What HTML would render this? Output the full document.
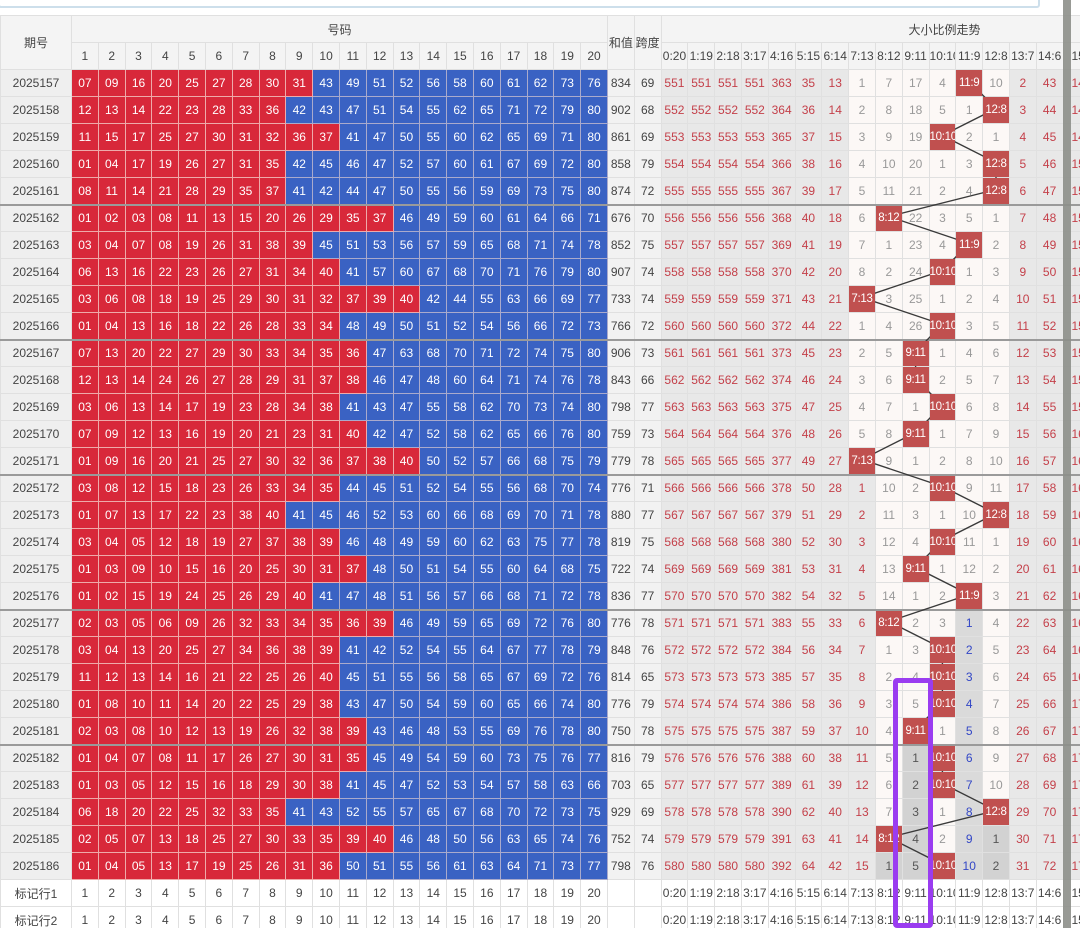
<!DOCTYPE html>
<html><head><meta charset="utf-8"><style>
html,body{margin:0;padding:0;background:#fff;width:1080px;height:928px;overflow:hidden;position:relative}
table{border-collapse:collapse;table-layout:fixed;position:absolute;left:0;top:15px;width:1089px}
tr{height:27px}
td{border:1px solid #e0e0e0;text-align:center;font:12px "Liberation Sans","Noto Sans CJK SC",sans-serif;padding:0;overflow:hidden;white-space:nowrap;color:#444}
td:nth-last-child(1){text-align:left;padding-left:8px}
.hd td{background:#f4f4f4;color:#444}
.q{background:#efefef}
.r{background:#d8283a;color:#fff;border-color:#eaa}
.b{background:#3a62c3;color:#fff;border-color:#aac}
.s{background:#f2f2f2}
.g{background:#e8e8e8;color:#c4404a}
.w{background:#fcf8f6;color:#999}
.h{background:#c0504f;color:#fff;position:relative;z-index:2;font-size:11.5px;letter-spacing:-0.3px}
.k{background:#d2d2d2;color:#555}
.u{background:#dadada;color:#3347c6}
.ft td{background:#fff;color:#444}
tr.sep td{border-bottom:2px solid #9a9a9a}
</style></head><body>
<div style="position:absolute;left:-2px;top:-10px;width:1038px;height:14px;border:2px solid #cddfeb;border-radius:3px"></div>
<svg width="1080" height="928" style="position:absolute;left:0;top:0;z-index:1" fill="none">
<polyline stroke="#3a3a3a" stroke-width="1.4" points="969.2,81.5 996,108.5 942.4,135.5 996,162.5 996,189.5 888.8,216.5 969.2,243.5 942.4,270.5 862,297.5 942.4,324.5 915.6,351.5 915.6,378.5 942.4,405.5 915.6,432.5 862,459.5 942.4,486.5 996,513.5 942.4,540.5 915.6,567.5 969.2,594.5 888.8,621.5 942.4,648.5 942.4,675.5 942.4,702.5 915.6,729.5 942.4,756.5 942.4,783.5 996,810.5 888.8,837.5 942.4,864.5"/>
</svg>
<table>
<colgroup><col style="width:71px"><col span="38" style="width:26.8px"></colgroup>
<tr class="hd"><td rowspan="2">期号</td><td colspan="20">号码</td><td rowspan="2">和值</td><td rowspan="2">跨度</td><td colspan="16" style="text-align:left;padding-left:247px">大小比例走势</td></tr>
<tr class="hd"><td>1<td>2<td>3<td>4<td>5<td>6<td>7<td>8<td>9<td>10<td>11<td>12<td>13<td>14<td>15<td>16<td>17<td>18<td>19<td>20<td>0:20<td>1:19<td>2:18<td>3:17<td>4:16<td>5:15<td>6:14<td>7:13<td>8:12<td>9:11<td>10:10<td>11:9<td>12:8<td>13:7<td>14:6<td>15:5</tr>
<tr><td class=q>2025157<td class=r>07<td class=r>09<td class=r>16<td class=r>20<td class=r>25<td class=r>27<td class=r>28<td class=r>30<td class=r>31<td class=b>43<td class=b>49<td class=b>51<td class=b>52<td class=b>56<td class=b>58<td class=b>60<td class=b>61<td class=b>62<td class=b>73<td class=b>76<td class=s>834<td class=s>69<td class=g>551<td class=g>551<td class=g>551<td class=g>551<td class=g>363<td class=g>35<td class=g>13<td class=w>1<td class=w>7<td class=w>17<td class=w>4<td class=h>11:9<td class=w>10<td class=g>2<td class=g>43<td class=g>147</tr>
<tr><td class=q>2025158<td class=r>12<td class=r>13<td class=r>14<td class=r>22<td class=r>23<td class=r>28<td class=r>33<td class=r>36<td class=b>42<td class=b>43<td class=b>47<td class=b>51<td class=b>54<td class=b>55<td class=b>62<td class=b>65<td class=b>71<td class=b>72<td class=b>79<td class=b>80<td class=s>902<td class=s>68<td class=g>552<td class=g>552<td class=g>552<td class=g>552<td class=g>364<td class=g>36<td class=g>14<td class=w>2<td class=w>8<td class=w>18<td class=w>5<td class=w>1<td class=h>12:8<td class=g>3<td class=g>44<td class=g>148</tr>
<tr><td class=q>2025159<td class=r>11<td class=r>15<td class=r>17<td class=r>25<td class=r>27<td class=r>30<td class=r>31<td class=r>32<td class=r>36<td class=r>37<td class=b>41<td class=b>47<td class=b>50<td class=b>55<td class=b>60<td class=b>62<td class=b>65<td class=b>69<td class=b>71<td class=b>80<td class=s>861<td class=s>69<td class=g>553<td class=g>553<td class=g>553<td class=g>553<td class=g>365<td class=g>37<td class=g>15<td class=w>3<td class=w>9<td class=w>19<td class=h>10:10<td class=w>2<td class=w>1<td class=g>4<td class=g>45<td class=g>149</tr>
<tr><td class=q>2025160<td class=r>01<td class=r>04<td class=r>17<td class=r>19<td class=r>26<td class=r>27<td class=r>31<td class=r>35<td class=b>42<td class=b>45<td class=b>46<td class=b>47<td class=b>52<td class=b>57<td class=b>60<td class=b>61<td class=b>67<td class=b>69<td class=b>72<td class=b>80<td class=s>858<td class=s>79<td class=g>554<td class=g>554<td class=g>554<td class=g>554<td class=g>366<td class=g>38<td class=g>16<td class=w>4<td class=w>10<td class=w>20<td class=w>1<td class=w>3<td class=h>12:8<td class=g>5<td class=g>46<td class=g>150</tr>
<tr class=sep><td class=q>2025161<td class=r>08<td class=r>11<td class=r>14<td class=r>21<td class=r>28<td class=r>29<td class=r>35<td class=r>37<td class=b>41<td class=b>42<td class=b>44<td class=b>47<td class=b>50<td class=b>55<td class=b>56<td class=b>59<td class=b>69<td class=b>73<td class=b>75<td class=b>80<td class=s>874<td class=s>72<td class=g>555<td class=g>555<td class=g>555<td class=g>555<td class=g>367<td class=g>39<td class=g>17<td class=w>5<td class=w>11<td class=w>21<td class=w>2<td class=w>4<td class=h>12:8<td class=g>6<td class=g>47<td class=g>151</tr>
<tr><td class=q>2025162<td class=r>01<td class=r>02<td class=r>03<td class=r>08<td class=r>11<td class=r>13<td class=r>15<td class=r>20<td class=r>26<td class=r>29<td class=r>35<td class=r>37<td class=b>46<td class=b>49<td class=b>59<td class=b>60<td class=b>61<td class=b>64<td class=b>66<td class=b>71<td class=s>676<td class=s>70<td class=g>556<td class=g>556<td class=g>556<td class=g>556<td class=g>368<td class=g>40<td class=g>18<td class=w>6<td class=h>8:12<td class=w>22<td class=w>3<td class=w>5<td class=w>1<td class=g>7<td class=g>48<td class=g>152</tr>
<tr><td class=q>2025163<td class=r>03<td class=r>04<td class=r>07<td class=r>08<td class=r>19<td class=r>26<td class=r>31<td class=r>38<td class=r>39<td class=b>45<td class=b>51<td class=b>53<td class=b>56<td class=b>57<td class=b>59<td class=b>65<td class=b>68<td class=b>71<td class=b>74<td class=b>78<td class=s>852<td class=s>75<td class=g>557<td class=g>557<td class=g>557<td class=g>557<td class=g>369<td class=g>41<td class=g>19<td class=w>7<td class=w>1<td class=w>23<td class=w>4<td class=h>11:9<td class=w>2<td class=g>8<td class=g>49<td class=g>153</tr>
<tr><td class=q>2025164<td class=r>06<td class=r>13<td class=r>16<td class=r>22<td class=r>23<td class=r>26<td class=r>27<td class=r>31<td class=r>34<td class=r>40<td class=b>41<td class=b>57<td class=b>60<td class=b>67<td class=b>68<td class=b>70<td class=b>71<td class=b>76<td class=b>79<td class=b>80<td class=s>907<td class=s>74<td class=g>558<td class=g>558<td class=g>558<td class=g>558<td class=g>370<td class=g>42<td class=g>20<td class=w>8<td class=w>2<td class=w>24<td class=h>10:10<td class=w>1<td class=w>3<td class=g>9<td class=g>50<td class=g>154</tr>
<tr><td class=q>2025165<td class=r>03<td class=r>06<td class=r>08<td class=r>18<td class=r>19<td class=r>25<td class=r>29<td class=r>30<td class=r>31<td class=r>32<td class=r>37<td class=r>39<td class=r>40<td class=b>42<td class=b>44<td class=b>55<td class=b>63<td class=b>66<td class=b>69<td class=b>77<td class=s>733<td class=s>74<td class=g>559<td class=g>559<td class=g>559<td class=g>559<td class=g>371<td class=g>43<td class=g>21<td class=h>7:13<td class=w>3<td class=w>25<td class=w>1<td class=w>2<td class=w>4<td class=g>10<td class=g>51<td class=g>155</tr>
<tr class=sep><td class=q>2025166<td class=r>01<td class=r>04<td class=r>13<td class=r>16<td class=r>18<td class=r>22<td class=r>26<td class=r>28<td class=r>33<td class=r>34<td class=b>48<td class=b>49<td class=b>50<td class=b>51<td class=b>52<td class=b>54<td class=b>56<td class=b>66<td class=b>72<td class=b>73<td class=s>766<td class=s>72<td class=g>560<td class=g>560<td class=g>560<td class=g>560<td class=g>372<td class=g>44<td class=g>22<td class=w>1<td class=w>4<td class=w>26<td class=h>10:10<td class=w>3<td class=w>5<td class=g>11<td class=g>52<td class=g>156</tr>
<tr><td class=q>2025167<td class=r>07<td class=r>13<td class=r>20<td class=r>22<td class=r>27<td class=r>29<td class=r>30<td class=r>33<td class=r>34<td class=r>35<td class=r>36<td class=b>47<td class=b>63<td class=b>68<td class=b>70<td class=b>71<td class=b>72<td class=b>74<td class=b>75<td class=b>80<td class=s>906<td class=s>73<td class=g>561<td class=g>561<td class=g>561<td class=g>561<td class=g>373<td class=g>45<td class=g>23<td class=w>2<td class=w>5<td class=h>9:11<td class=w>1<td class=w>4<td class=w>6<td class=g>12<td class=g>53<td class=g>157</tr>
<tr><td class=q>2025168<td class=r>12<td class=r>13<td class=r>14<td class=r>24<td class=r>26<td class=r>27<td class=r>28<td class=r>29<td class=r>31<td class=r>37<td class=r>38<td class=b>46<td class=b>47<td class=b>48<td class=b>60<td class=b>64<td class=b>71<td class=b>74<td class=b>76<td class=b>78<td class=s>843<td class=s>66<td class=g>562<td class=g>562<td class=g>562<td class=g>562<td class=g>374<td class=g>46<td class=g>24<td class=w>3<td class=w>6<td class=h>9:11<td class=w>2<td class=w>5<td class=w>7<td class=g>13<td class=g>54<td class=g>158</tr>
<tr><td class=q>2025169<td class=r>03<td class=r>06<td class=r>13<td class=r>14<td class=r>17<td class=r>19<td class=r>23<td class=r>28<td class=r>34<td class=r>38<td class=b>41<td class=b>43<td class=b>47<td class=b>55<td class=b>58<td class=b>62<td class=b>70<td class=b>73<td class=b>74<td class=b>80<td class=s>798<td class=s>77<td class=g>563<td class=g>563<td class=g>563<td class=g>563<td class=g>375<td class=g>47<td class=g>25<td class=w>4<td class=w>7<td class=w>1<td class=h>10:10<td class=w>6<td class=w>8<td class=g>14<td class=g>55<td class=g>159</tr>
<tr><td class=q>2025170<td class=r>07<td class=r>09<td class=r>12<td class=r>13<td class=r>16<td class=r>19<td class=r>20<td class=r>21<td class=r>23<td class=r>31<td class=r>40<td class=b>42<td class=b>47<td class=b>52<td class=b>58<td class=b>62<td class=b>65<td class=b>66<td class=b>76<td class=b>80<td class=s>759<td class=s>73<td class=g>564<td class=g>564<td class=g>564<td class=g>564<td class=g>376<td class=g>48<td class=g>26<td class=w>5<td class=w>8<td class=h>9:11<td class=w>1<td class=w>7<td class=w>9<td class=g>15<td class=g>56<td class=g>160</tr>
<tr class=sep><td class=q>2025171<td class=r>01<td class=r>09<td class=r>16<td class=r>20<td class=r>21<td class=r>25<td class=r>27<td class=r>30<td class=r>32<td class=r>36<td class=r>37<td class=r>38<td class=r>40<td class=b>50<td class=b>52<td class=b>57<td class=b>66<td class=b>68<td class=b>75<td class=b>79<td class=s>779<td class=s>78<td class=g>565<td class=g>565<td class=g>565<td class=g>565<td class=g>377<td class=g>49<td class=g>27<td class=h>7:13<td class=w>9<td class=w>1<td class=w>2<td class=w>8<td class=w>10<td class=g>16<td class=g>57<td class=g>161</tr>
<tr><td class=q>2025172<td class=r>03<td class=r>08<td class=r>12<td class=r>15<td class=r>18<td class=r>23<td class=r>26<td class=r>33<td class=r>34<td class=r>35<td class=b>44<td class=b>45<td class=b>51<td class=b>52<td class=b>54<td class=b>55<td class=b>56<td class=b>68<td class=b>70<td class=b>74<td class=s>776<td class=s>71<td class=g>566<td class=g>566<td class=g>566<td class=g>566<td class=g>378<td class=g>50<td class=g>28<td class=g>1<td class=w>10<td class=w>2<td class=h>10:10<td class=w>9<td class=w>11<td class=g>17<td class=g>58<td class=g>162</tr>
<tr><td class=q>2025173<td class=r>01<td class=r>07<td class=r>13<td class=r>17<td class=r>22<td class=r>23<td class=r>38<td class=r>40<td class=b>41<td class=b>45<td class=b>46<td class=b>52<td class=b>53<td class=b>60<td class=b>66<td class=b>68<td class=b>69<td class=b>70<td class=b>71<td class=b>78<td class=s>880<td class=s>77<td class=g>567<td class=g>567<td class=g>567<td class=g>567<td class=g>379<td class=g>51<td class=g>29<td class=g>2<td class=w>11<td class=w>3<td class=w>1<td class=w>10<td class=h>12:8<td class=g>18<td class=g>59<td class=g>163</tr>
<tr><td class=q>2025174<td class=r>03<td class=r>04<td class=r>05<td class=r>12<td class=r>18<td class=r>19<td class=r>27<td class=r>37<td class=r>38<td class=r>39<td class=b>46<td class=b>48<td class=b>49<td class=b>59<td class=b>60<td class=b>62<td class=b>63<td class=b>75<td class=b>77<td class=b>78<td class=s>819<td class=s>75<td class=g>568<td class=g>568<td class=g>568<td class=g>568<td class=g>380<td class=g>52<td class=g>30<td class=g>3<td class=w>12<td class=w>4<td class=h>10:10<td class=w>11<td class=w>1<td class=g>19<td class=g>60<td class=g>164</tr>
<tr><td class=q>2025175<td class=r>01<td class=r>03<td class=r>09<td class=r>10<td class=r>15<td class=r>16<td class=r>20<td class=r>25<td class=r>30<td class=r>31<td class=r>37<td class=b>48<td class=b>50<td class=b>51<td class=b>54<td class=b>55<td class=b>60<td class=b>64<td class=b>68<td class=b>75<td class=s>722<td class=s>74<td class=g>569<td class=g>569<td class=g>569<td class=g>569<td class=g>381<td class=g>53<td class=g>31<td class=g>4<td class=w>13<td class=h>9:11<td class=w>1<td class=w>12<td class=w>2<td class=g>20<td class=g>61<td class=g>165</tr>
<tr class=sep><td class=q>2025176<td class=r>01<td class=r>02<td class=r>15<td class=r>19<td class=r>24<td class=r>25<td class=r>26<td class=r>29<td class=r>40<td class=b>41<td class=b>47<td class=b>48<td class=b>51<td class=b>56<td class=b>57<td class=b>66<td class=b>68<td class=b>71<td class=b>72<td class=b>78<td class=s>836<td class=s>77<td class=g>570<td class=g>570<td class=g>570<td class=g>570<td class=g>382<td class=g>54<td class=g>32<td class=g>5<td class=w>14<td class=w>1<td class=w>2<td class=h>11:9<td class=w>3<td class=g>21<td class=g>62<td class=g>166</tr>
<tr><td class=q>2025177<td class=r>02<td class=r>03<td class=r>05<td class=r>06<td class=r>09<td class=r>26<td class=r>32<td class=r>33<td class=r>34<td class=r>35<td class=r>36<td class=r>39<td class=b>46<td class=b>49<td class=b>59<td class=b>65<td class=b>69<td class=b>72<td class=b>76<td class=b>80<td class=s>776<td class=s>78<td class=g>571<td class=g>571<td class=g>571<td class=g>571<td class=g>383<td class=g>55<td class=g>33<td class=g>6<td class=h>8:12<td class=w>2<td class=w>3<td class=u>1<td class=w>4<td class=g>22<td class=g>63<td class=g>167</tr>
<tr><td class=q>2025178<td class=r>03<td class=r>04<td class=r>13<td class=r>20<td class=r>25<td class=r>27<td class=r>34<td class=r>36<td class=r>38<td class=r>39<td class=b>41<td class=b>42<td class=b>52<td class=b>54<td class=b>55<td class=b>64<td class=b>67<td class=b>77<td class=b>78<td class=b>79<td class=s>848<td class=s>76<td class=g>572<td class=g>572<td class=g>572<td class=g>572<td class=g>384<td class=g>56<td class=g>34<td class=g>7<td class=w>1<td class=w>3<td class=h>10:10<td class=u>2<td class=w>5<td class=g>23<td class=g>64<td class=g>168</tr>
<tr><td class=q>2025179<td class=r>11<td class=r>12<td class=r>13<td class=r>14<td class=r>16<td class=r>21<td class=r>22<td class=r>25<td class=r>26<td class=r>40<td class=b>45<td class=b>51<td class=b>55<td class=b>56<td class=b>58<td class=b>65<td class=b>67<td class=b>69<td class=b>72<td class=b>76<td class=s>814<td class=s>65<td class=g>573<td class=g>573<td class=g>573<td class=g>573<td class=g>385<td class=g>57<td class=g>35<td class=g>8<td class=w>2<td class=w>4<td class=h>10:10<td class=u>3<td class=w>6<td class=g>24<td class=g>65<td class=g>169</tr>
<tr><td class=q>2025180<td class=r>01<td class=r>08<td class=r>10<td class=r>11<td class=r>14<td class=r>20<td class=r>22<td class=r>25<td class=r>29<td class=r>38<td class=b>43<td class=b>47<td class=b>50<td class=b>54<td class=b>59<td class=b>60<td class=b>65<td class=b>66<td class=b>74<td class=b>80<td class=s>776<td class=s>79<td class=g>574<td class=g>574<td class=g>574<td class=g>574<td class=g>386<td class=g>58<td class=g>36<td class=g>9<td class=w>3<td class=w>5<td class=h>10:10<td class=u>4<td class=w>7<td class=g>25<td class=g>66<td class=g>170</tr>
<tr class=sep><td class=q>2025181<td class=r>02<td class=r>03<td class=r>08<td class=r>10<td class=r>12<td class=r>13<td class=r>19<td class=r>26<td class=r>32<td class=r>38<td class=r>39<td class=b>43<td class=b>46<td class=b>48<td class=b>53<td class=b>55<td class=b>69<td class=b>76<td class=b>78<td class=b>80<td class=s>750<td class=s>78<td class=g>575<td class=g>575<td class=g>575<td class=g>575<td class=g>387<td class=g>59<td class=g>37<td class=g>10<td class=w>4<td class=h>9:11<td class=w>1<td class=u>5<td class=w>8<td class=g>26<td class=g>67<td class=g>171</tr>
<tr><td class=q>2025182<td class=r>01<td class=r>04<td class=r>07<td class=r>08<td class=r>11<td class=r>17<td class=r>26<td class=r>27<td class=r>30<td class=r>31<td class=r>35<td class=b>45<td class=b>49<td class=b>54<td class=b>59<td class=b>60<td class=b>73<td class=b>75<td class=b>76<td class=b>77<td class=s>816<td class=s>79<td class=g>576<td class=g>576<td class=g>576<td class=g>576<td class=g>388<td class=g>60<td class=g>38<td class=g>11<td class=w>5<td class=k>1<td class=h>10:10<td class=u>6<td class=w>9<td class=g>27<td class=g>68<td class=g>172</tr>
<tr><td class=q>2025183<td class=r>01<td class=r>03<td class=r>05<td class=r>12<td class=r>15<td class=r>16<td class=r>18<td class=r>29<td class=r>30<td class=r>38<td class=b>41<td class=b>45<td class=b>47<td class=b>52<td class=b>53<td class=b>54<td class=b>57<td class=b>58<td class=b>63<td class=b>66<td class=s>703<td class=s>65<td class=g>577<td class=g>577<td class=g>577<td class=g>577<td class=g>389<td class=g>61<td class=g>39<td class=g>12<td class=w>6<td class=k>2<td class=h>10:10<td class=u>7<td class=w>10<td class=g>28<td class=g>69<td class=g>173</tr>
<tr><td class=q>2025184<td class=r>06<td class=r>18<td class=r>20<td class=r>22<td class=r>25<td class=r>32<td class=r>33<td class=r>35<td class=b>41<td class=b>43<td class=b>52<td class=b>55<td class=b>57<td class=b>65<td class=b>67<td class=b>68<td class=b>70<td class=b>72<td class=b>73<td class=b>75<td class=s>929<td class=s>69<td class=g>578<td class=g>578<td class=g>578<td class=g>578<td class=g>390<td class=g>62<td class=g>40<td class=g>13<td class=w>7<td class=k>3<td class=w>1<td class=u>8<td class=h>12:8<td class=g>29<td class=g>70<td class=g>174</tr>
<tr><td class=q>2025185<td class=r>02<td class=r>05<td class=r>07<td class=r>13<td class=r>18<td class=r>25<td class=r>27<td class=r>30<td class=r>33<td class=r>35<td class=r>39<td class=r>40<td class=b>46<td class=b>48<td class=b>50<td class=b>56<td class=b>63<td class=b>65<td class=b>74<td class=b>76<td class=s>752<td class=s>74<td class=g>579<td class=g>579<td class=g>579<td class=g>579<td class=g>391<td class=g>63<td class=g>41<td class=g>14<td class=h>8:12<td class=k>4<td class=w>2<td class=u>9<td class=k>1<td class=g>30<td class=g>71<td class=g>175</tr>
<tr><td class=q>2025186<td class=r>01<td class=r>04<td class=r>05<td class=r>13<td class=r>17<td class=r>19<td class=r>25<td class=r>26<td class=r>31<td class=r>36<td class=b>50<td class=b>51<td class=b>55<td class=b>56<td class=b>61<td class=b>63<td class=b>64<td class=b>71<td class=b>73<td class=b>77<td class=s>798<td class=s>76<td class=g>580<td class=g>580<td class=g>580<td class=g>580<td class=g>392<td class=g>64<td class=g>42<td class=g>15<td class=k>1<td class=k>5<td class=h>10:10<td class=u>10<td class=k>2<td class=g>31<td class=g>72<td class=g>176</tr>
<tr class="ft"><td>标记行1<td>1<td>2<td>3<td>4<td>5<td>6<td>7<td>8<td>9<td>10<td>11<td>12<td>13<td>14<td>15<td>16<td>17<td>18<td>19<td>20<td><td><td>0:20<td>1:19<td>2:18<td>3:17<td>4:16<td>5:15<td>6:14<td>7:13<td>8:12<td>9:11<td>10:10<td>11:9<td>12:8<td>13:7<td>14:6<td>15:5</tr>
<tr class="ft"><td>标记行2<td>1<td>2<td>3<td>4<td>5<td>6<td>7<td>8<td>9<td>10<td>11<td>12<td>13<td>14<td>15<td>16<td>17<td>18<td>19<td>20<td><td><td>0:20<td>1:19<td>2:18<td>3:17<td>4:16<td>5:15<td>6:14<td>7:13<td>8:12<td>9:11<td>10:10<td>11:9<td>12:8<td>13:7<td>14:6<td>15:5</tr>
</table>
<div style="position:absolute;left:1063px;top:0;width:8px;height:928px;background:#8d8f8a;opacity:.9;z-index:3"></div>
<div style="position:absolute;left:893px;top:678px;width:40px;height:250px;box-sizing:border-box;border:5px solid #9a3cf0;border-radius:4px;z-index:3"></div>
</body></html>
